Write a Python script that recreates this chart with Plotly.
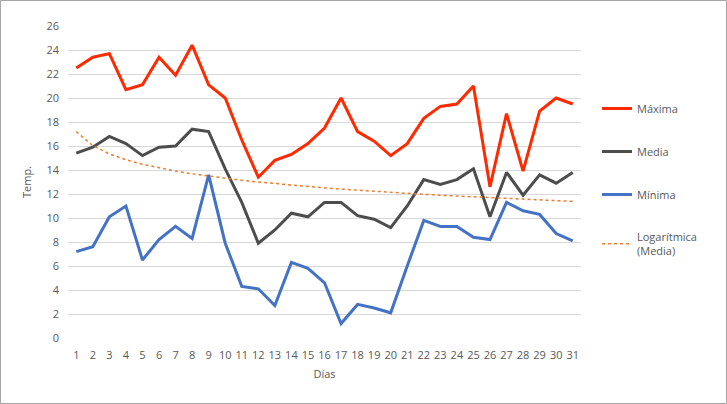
import numpy as np
import plotly.graph_objects as go

dias = list(range(1, 32))
maxima = [22.5, 23.4, 23.7, 20.7, 21.1, 23.4, 21.9, 24.4, 21.1, 20.0, 16.5, 13.4, 14.8, 15.3, 16.2, 17.5,
          20.0, 17.2, 16.4, 15.2, 16.2, 18.3, 19.3, 19.5, 21.0, 12.6, 18.7, 13.9, 18.9, 20.0, 19.5]
media = [15.4, 15.9, 16.8, 16.2, 15.2, 15.9, 16.0, 17.4, 17.2, 14.1, 11.3, 7.9, 9.0, 10.4, 10.1, 11.3,
         11.3, 10.2, 9.9, 9.2, 11.0, 13.2, 12.8, 13.2, 14.1, 10.1, 13.8, 11.9, 13.6, 12.9, 13.8]
minima = [7.2, 7.6, 10.1, 11.0, 6.5, 8.2, 9.3, 8.3, 13.6, 7.9, 4.3, 4.1, 2.7, 6.3, 5.8, 4.6,
          1.2, 2.8, 2.5, 2.1, 6.0, 9.8, 9.3, 9.3, 8.4, 8.2, 11.3, 10.6, 10.3, 8.7, 8.1]
y_ticks = list(range(0, 27, 2))

# logarithmic trendline of Media (least squares on ln(x))
a, b = np.polyfit(np.log(dias), media, 1)
trend = a * np.log(dias) + b

W, H = 727, 404
ml, mr, mt, mb = 68, 146, 26, 66
pw, ph = W - ml - mr, H - mt - mb

font = "Open Sans"
fig = go.Figure()
fig.add_trace(go.Scatter(x=dias, y=maxima, mode="lines", name="Máxima",
                         line=dict(color="#FF2A00", width=3), legendgroup="a"))
fig.add_trace(go.Scatter(x=dias, y=media, mode="lines", name="Media",
                         line=dict(color="#4D4D4D", width=3), legendgroup="b"))
fig.add_trace(go.Scatter(x=dias, y=minima, mode="lines", name="Mínima",
                         line=dict(color="#4472C4", width=3), legendgroup="c"))
fig.add_trace(go.Scatter(x=dias, y=trend, mode="lines", name="Logarítmica<br>(Media)",
                         line=dict(color="#ED7D31", width=1.5, dash="dot"), legendgroup="d"))

fig.update_layout(
    width=W, height=H,
    margin=dict(l=ml, r=mr, t=mt, b=mb),
    paper_bgcolor="white", plot_bgcolor="white",
    font=dict(family=font, size=11, color="#595959"),
    showlegend=True,
    legend=dict(x=1 + 16 / pw, y=1 - 68 / ph, xanchor="left", yanchor="top",
                tracegroupgap=24, font=dict(size=11, color="#595959"),
                bgcolor="rgba(0,0,0,0)"),
    xaxis=dict(type="category", tickmode="array", tickvals=dias, ticktext=[str(d) for d in dias],
               range=[-0.5, 30.5],
               showgrid=False, zeroline=False, showline=False, ticks="",
               ticklabelstandoff=9,
               title=dict(text="Días", standoff=9, font=dict(size=11, color="#595959"))),
    yaxis=dict(range=[0, 26], tickmode="array", tickvals=y_ticks, showgrid=True,
               gridcolor="#D9D9D9", gridwidth=1, zeroline=False, showline=False, ticks="",
               ticklabelstandoff=8,
               title=dict(text="Temp.", standoff=12, font=dict(size=11, color="#595959"))),
    shapes=[dict(type="rect", xref="paper", yref="paper",
                 x0=-(ml - 0.5) / pw, x1=1 + (mr - 0.5) / pw,
                 y0=-(mb - 0.5) / ph, y1=1 + (mt - 0.5) / ph,
                 line=dict(color="#A6A6A6", width=1), layer="below")],
)
fig.write_html("out.html", post_script="document.body.style.margin='0';",
               config={"displayModeBar": False})
